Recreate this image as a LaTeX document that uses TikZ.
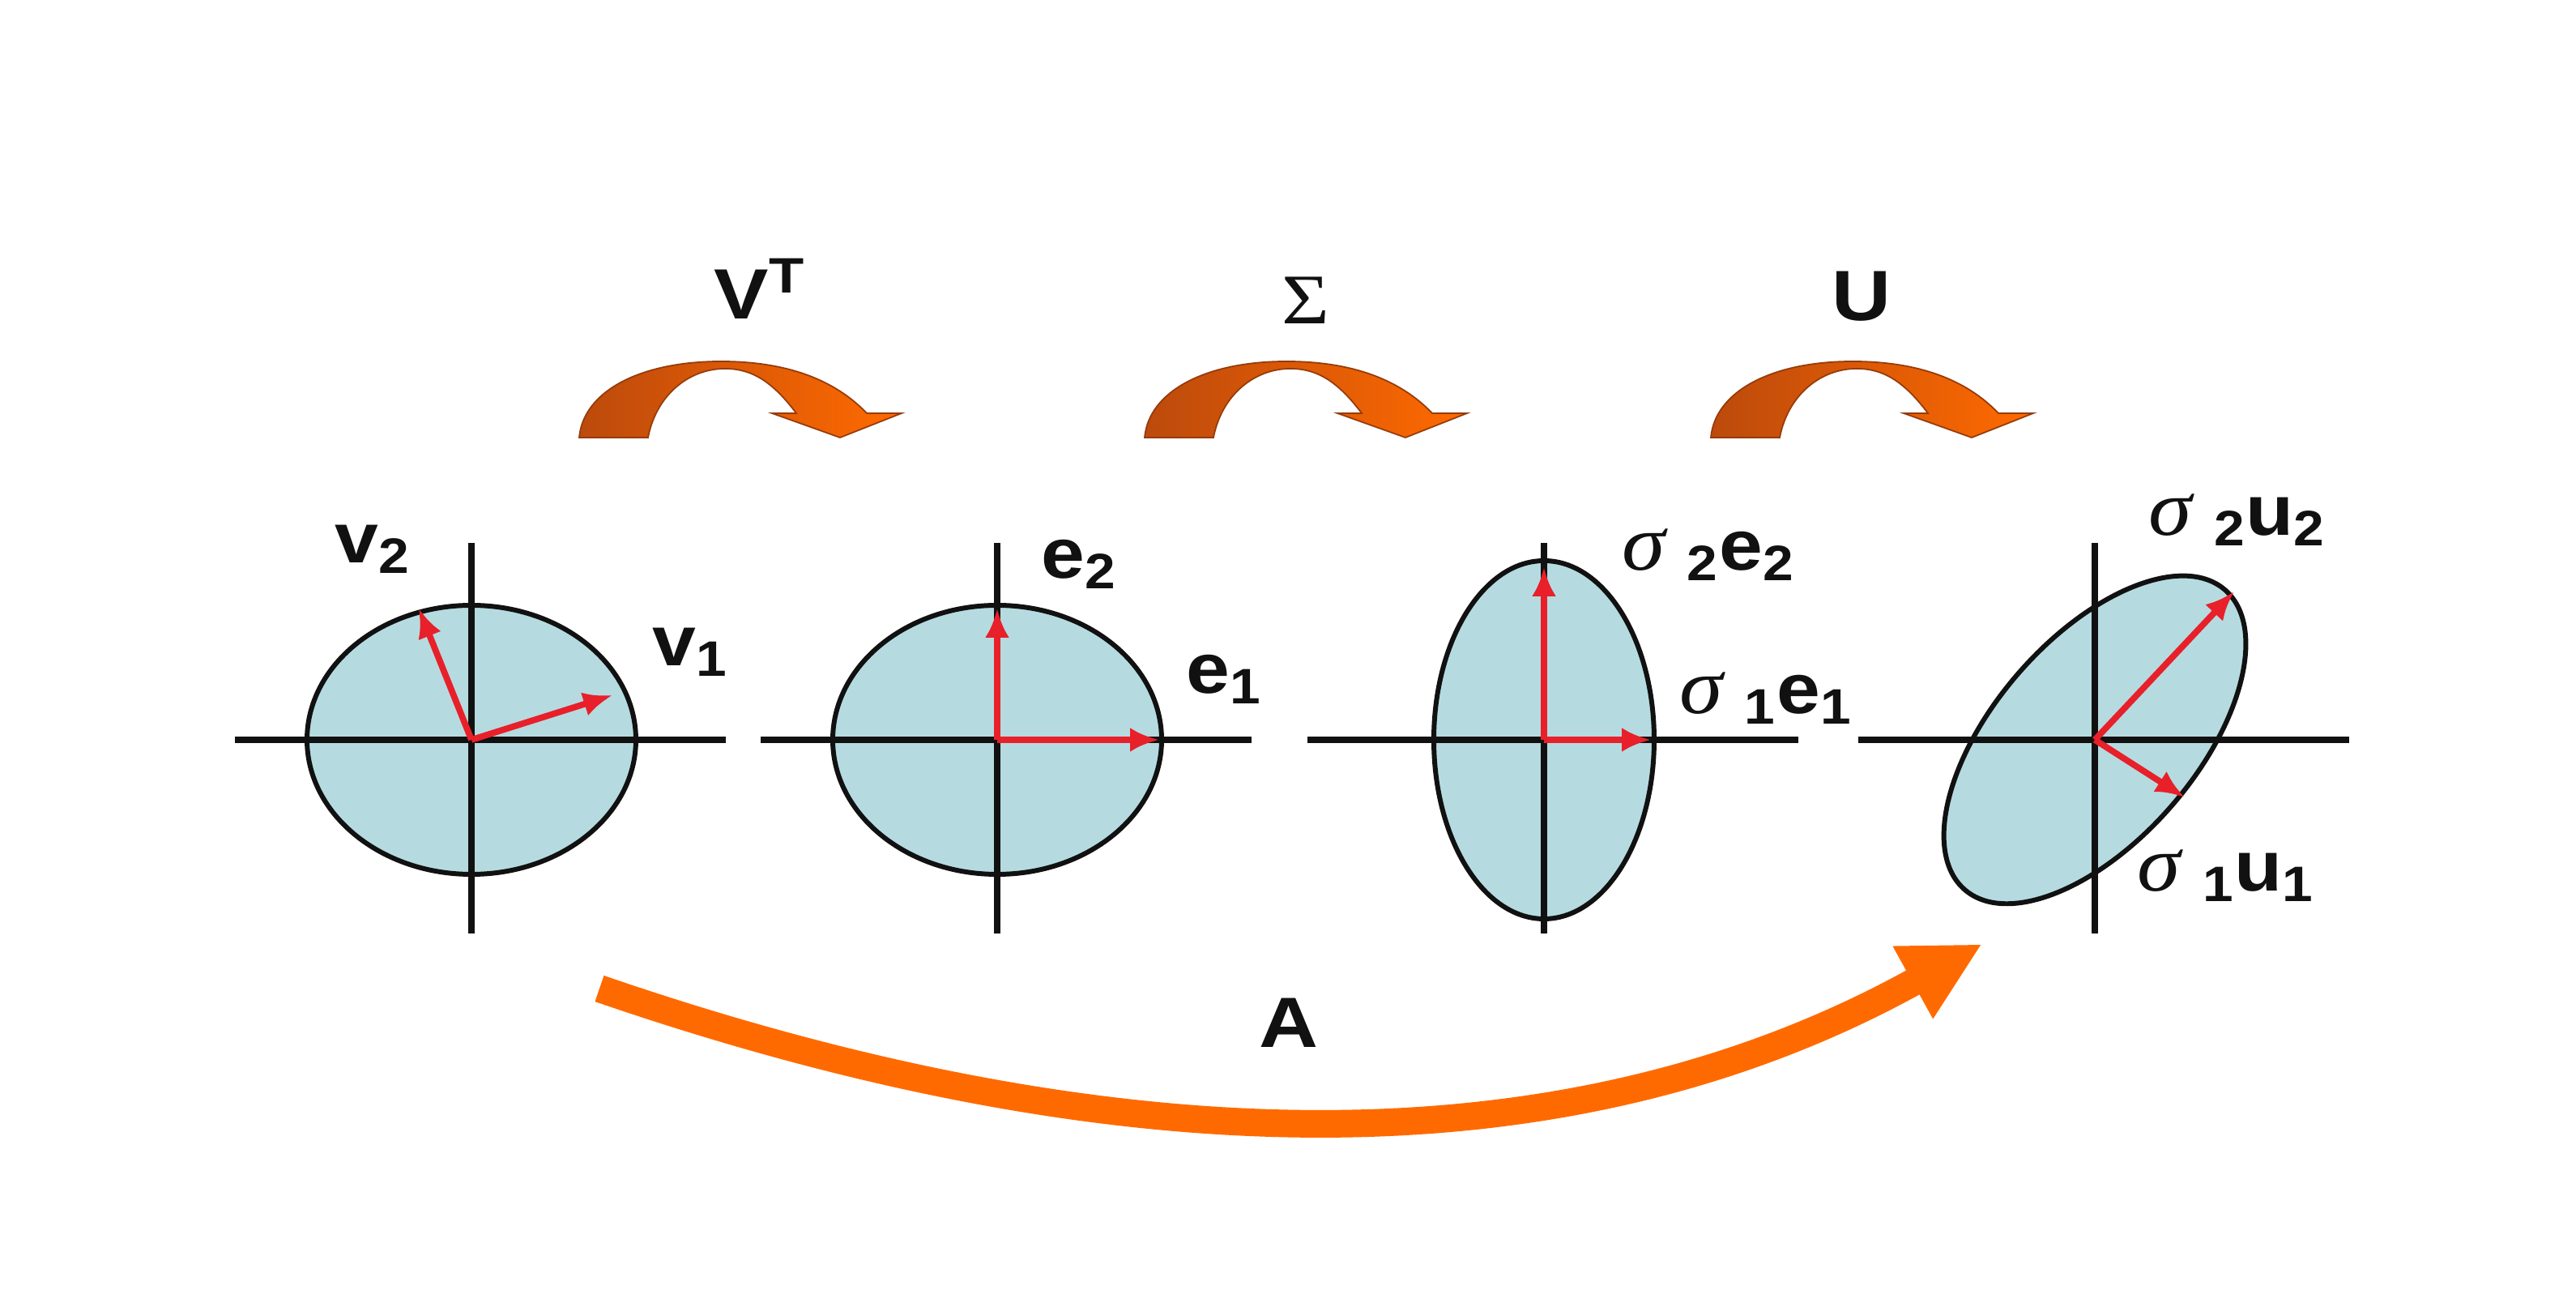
\documentclass[tikz,border=0pt]{standalone}
\usepackage{fontspec}
\setmainfont{Liberation Sans}
\newfontfamily\grkfont{Liberation Serif}
\usetikzlibrary{arrows.meta}
\definecolor{ink}{HTML}{111111}
\definecolor{disc}{HTML}{B5DBE0}
\definecolor{vecred}{HTML}{E8202A}
\definecolor{flow}{HTML}{FF6A00}
\definecolor{flowdark}{HTML}{BC4A0C}
\newcommand{\sigm}{{\grkfont\itshape\mdseries\fontsize{28}{30}\selectfont σ}\ }
\tikzset{
  axisline/.style={line width=2.2pt, draw=ink},
  blob/.style={fill=disc, draw=ink, line width=1.7pt},
  vec/.style={-{Latex[length=3.6mm,width=3mm]}, line width=2.2pt, draw=vecred},
  lab/.style={font=\bfseries\fontsize{25}{27}\selectfont, text=ink, inner sep=0pt, xscale=1.1},
  op/.style={font=\bfseries\fontsize{25}{27}\selectfont, text=ink, inner sep=0pt, xscale=1.15},
  bigarr/.style={-{Triangle[length=0.98cm,width=0.95cm]}, line width=0.34cm, draw=flow},
  stepflow/.style={left color=flowdark, right color=flow, draw=flowdark!80!black, line width=0.5pt},
}
\begin{document}
\begin{tikzpicture}
  \useasboundingbox (0,0) rectangle (31.8,16.08);

  % step arrows on top
  \foreach \dx in {0,6.98,13.97}{
    \path[stepflow, xshift=\dx cm] (7.15,10.68) .. controls (7.2,11.25) and (7.9,11.62) .. (8.9,11.62)
      .. controls (9.7,11.62) and (10.3,11.4) .. (10.70,10.98)
      -- (11.13,10.98) -- (10.37,10.68) -- (9.53,10.98) -- (9.83,10.98)
      .. controls (9.55,11.35) and (9.3,11.53) .. (8.95,11.53)
      .. controls (8.5,11.53) and (8.1,11.2) .. (8.0,10.68) -- cycle;
  }
  \node[op] (vt) at (9.38,12.52) {V\textsuperscript{T}};
  \node[op, font=\grkfont\fontsize{25}{27}\selectfont] (sig) at (16.12,12.37) {Σ};
  \node[op] (uu) at (22.98,12.42) {U};

  % unit circle
  \coordinate (o1) at (5.82,6.95);
  \draw[blob] (o1) ellipse (2.03 and 1.66);
  \draw[axisline] (o1) ++(-2.92,0) -- ++(6.06,0);
  \draw[axisline] (o1) ++(0,2.43) -- ++(0,-4.82);
  \coordinate (v2) at (5.17,8.57);
  \coordinate (v1) at (7.56,7.50);
  \draw[vec] (o1) -- (v2);
  \draw[vec] (o1) -- (v1);
  \node[lab] (lv2) at (4.60,9.30) {v\textsubscript{2}};
  \node[lab] (lv1) at (8.52,8.03) {v\textsubscript{1}};

  % rotated
  \coordinate (o2) at (12.31,6.95);
  \draw[blob] (o2) ellipse (2.03 and 1.66);
  \draw[axisline] (o2) ++(-2.92,0) -- ++(6.06,0);
  \draw[axisline] (o2) ++(0,2.43) -- ++(0,-4.82);
  \coordinate (e2) at (12.31,8.57);
  \coordinate (e1) at (14.31,6.95);
  \draw[vec] (o2) -- (e2);
  \draw[vec] (o2) -- (e1);
  \node[lab] (le2) at (13.32,9.12) {e\textsubscript{2}};
  \node[lab] (le1) at (15.11,7.70) {e\textsubscript{1}};

  % stretched
  \coordinate (o3) at (19.06,6.95);
  \draw[blob] (o3) ellipse (1.36 and 2.21);
  \draw[axisline] (o3) ++(-2.92,0) -- ++(6.06,0);
  \draw[axisline] (o3) ++(0,2.43) -- ++(0,-4.82);
  \coordinate (s2) at (19.06,9.08);
  \coordinate (s1) at (20.38,6.95);
  \draw[vec] (o3) -- (s2);
  \draw[vec] (o3) -- (s1);
  \node[lab] (ls2) at (21.09,9.23) {\sigm\textsubscript{2}e\textsubscript{2}};
  \node[lab] (ls1) at (21.80,7.46) {\sigm\textsubscript{1}e\textsubscript{1}};

  % rotated again
  \coordinate (o4) at (25.86,6.95);
  \draw[blob, rotate around={49:(o4)}] (o4) ellipse (2.45 and 1.25);
  \draw[axisline] (o4) ++(-2.92,0) -- ++(6.06,0);
  \draw[axisline] (o4) ++(0,2.43) -- ++(0,-4.82);
  \coordinate (u2) at (27.58,8.78);
  \coordinate (u1) at (26.97,6.24);
  \draw[vec] (o4) -- (u2);
  \draw[vec] (o4) -- (u1);
  \node[lab] (lu2) at (27.62,9.66) {\sigm\textsubscript{2}u\textsubscript{2}};
  \node[lab] (lu1) at (27.48,5.27) {\sigm\textsubscript{1}u\textsubscript{1}};

  % whole map
  \coordinate (astart) at (7.40,3.88);
  \coordinate (aend) at (24.47,4.43);
  \draw[bigarr] (astart) .. controls (13.27,1.86) and (19.04,1.42) .. (aend);
  \node[op] (la) at (15.91,3.46) {A};
\end{tikzpicture}
\end{document}
